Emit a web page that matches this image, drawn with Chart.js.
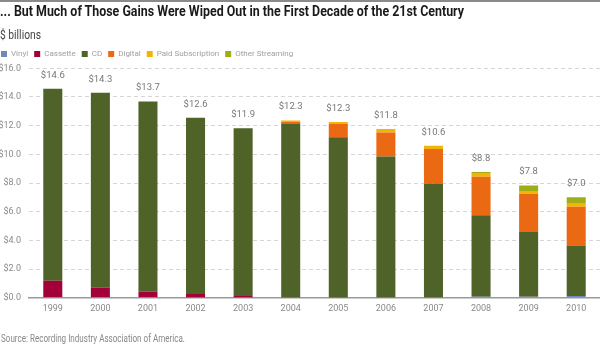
<!DOCTYPE html>
<html><head><meta charset="utf-8">
<script src="https://cdn.jsdelivr.net/npm/chart.js@4.4.1/dist/chart.umd.min.js"></script>
<style>
html,body{margin:0;padding:0;background:#fff;}
#wrap{position:relative;width:600px;height:351px;overflow:hidden;font-family:Roboto,"Liberation Sans",sans-serif;}
#topline{position:absolute;left:0;top:0;width:600px;height:1.5px;background:#8a8a8a;}
.t{position:absolute;left:0;white-space:nowrap;transform-origin:0 0;}
#title{top:4.2px;font-weight:bold;font-size:14px;line-height:14px;color:#1a1a1a;}
#units{top:29.2px;font-size:12px;line-height:12px;color:#444;}
#source{top:333.6px;font-size:10px;line-height:10px;color:#888;left:1px;}
canvas{position:absolute;left:0;top:0;}
</style></head><body>
<div id="wrap">
<canvas id="c" width="600" height="351"></canvas>
<div id="topline"></div>
<div id="title" class="t" data-w="464">... But Much of Those Gains Were Wiped Out in the First Decade of the 21st Century</div>
<div id="units" class="t" data-w="41">$ billions</div>
<div id="source" class="t" data-w="184">Source: Recording Industry Association of America.</div>
</div>
<script>
const years = ['1999','2000','2001','2002','2003','2004','2005','2006','2007','2008','2009','2010'];
const vinyl = [0.03,0.03,0.03,0.02,0.02,0.02,0.01,0.02,0.02,0.06,0.06,0.12];
const cassette = [1.15,0.66,0.40,0.23,0.10,0.03,0.04,0.01,0.01,0,0,0];
const cd = [13.40,13.60,13.25,12.30,11.70,12.07,11.14,9.81,7.93,5.69,4.53,3.52];
const digital = [0,0,0,0,0,0.14,0.93,1.69,2.42,2.69,2.66,2.70];
const paidSubscription = [0,0,0,0,0,0.10,0.14,0.23,0.22,0.26,0.19,0.21];
const otherStreaming = [0,0,0,0,0,0,0,0,0,0.07,0.38,0.46];
const totals = [14.6,14.3,13.7,12.6,11.9,12.3,12.3,11.8,10.6,8.8,7.8,7.0];
const yTicks = [0,2,4,6,8,10,12,14,16];

const FONT = 'Roboto,"Liberation Sans",sans-serif';

function fitTexts() {
  document.querySelectorAll('.t').forEach(el => {
    el.style.transform = 'none';
    const w = el.getBoundingClientRect().width;
    const target = parseFloat(el.dataset.w);
    if (w > 0) el.style.transform = 'scaleX(' + (target / w) + ')';
  });
}
fitTexts();
if (document.fonts && document.fonts.ready) document.fonts.ready.then(fitTexts);

const totalsPlugin = {
  id: 'totals',
  afterDatasetsDraw(chart) {
    const {ctx} = chart;
    const x = chart.scales.x, y = chart.scales.y;
    ctx.save();
    ctx.font = '9.5px ' + FONT;
    ctx.fillStyle = '#777';
    ctx.textAlign = 'center';
    ctx.textBaseline = 'middle';
    totals.forEach((t, i) => {
      let sum = 0;
      chart.data.datasets.forEach(ds => { sum += ds.data[i]; });
      ctx.fillText('$' + t.toFixed(1), x.getPixelForValue(i), y.getPixelForValue(sum) - 13.5);
    });
    ctx.restore();
  }
};

const legendShift = {
  id: 'legendShift',
  afterLayout(chart) {
    const lg = chart.legend;
    if (!lg) return;
    const h = lg.height;
    const p = chart.options.plugins.legend.labels.padding;
    lg.left = 1 - p;
    lg.top = 54 - p - 4;
    lg.bottom = lg.top + h;
  }
};

new Chart(document.getElementById('c'), {
  type: 'bar',
  data: {
    labels: years,
    datasets: [
      {label: 'Vinyl', data: vinyl, backgroundColor: '#7189b4'},
      {label: 'Cassette', data: cassette, backgroundColor: '#a3003a'},
      {label: 'CD', data: cd, backgroundColor: '#4f6228'},
      {label: 'Digital', data: digital, backgroundColor: '#ea6912'},
      {label: 'Paid Subscription', data: paidSubscription, backgroundColor: '#f4b405'},
      {label: 'Other Streaming', data: otherStreaming, backgroundColor: '#9fae16'}
    ]
  },
  options: {
    responsive: false,
    animation: false,
    devicePixelRatio: 1,
    layout: {padding: {top: 44.3, bottom: 29.3, left: 0, right: 0}},
    datasets: {bar: {barPercentage: 0.4, categoryPercentage: 1.0, borderWidth: 0}},
    plugins: {
      legend: {
        position: 'top', align: 'start',
        labels: {boxWidth: 6, boxHeight: 6, padding: 6, color: '#a0a0a0', font: {family: FONT, size: 8}}
      },
      tooltip: {enabled: false}
    },
    scales: {
      x: {
        stacked: true,
        grid: {display: false, drawTicks: false},
        border: {display: true, color: '#9a9a9a', width: 1.5},
        ticks: {color: '#8a8a8a', font: {family: FONT, size: 9}, padding: 6, maxRotation: 0},
        afterFit(s) { s.height = 24; }
      },
      y: {
        stacked: true, min: 0, max: 16,
        afterBuildTicks(s) { s.ticks = yTicks.map(v => ({value: v})); },
        grid: {color: '#d6d6d6', lineWidth: 1, drawTicks: false},
        border: {display: false, dash: [4, 3]},
        ticks: {color: '#8a8a8a', font: {family: FONT, size: 9}, padding: 8,
                callback: v => '$' + Number(v).toFixed(1)},
        afterFit(s) { s.width = 29; }
      }
    }
  },
  plugins: [totalsPlugin, legendShift]
});
</script>
</body></html>
